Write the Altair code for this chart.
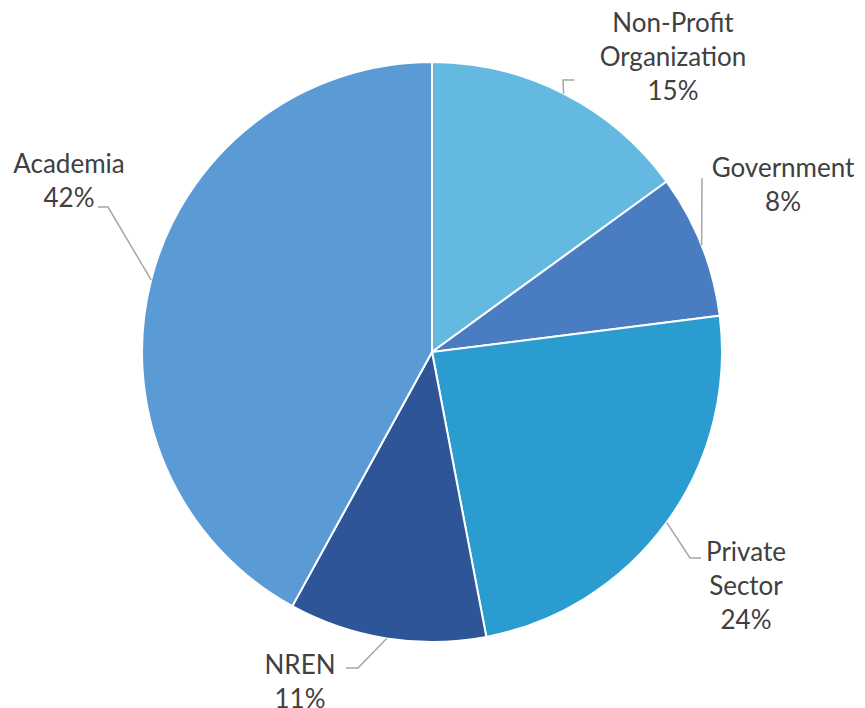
import math
import altair as alt
import pandas as pd

# ---- data ----
categories = ["Non-Profit Organization", "Government", "Private Sector", "NREN", "Academia"]
label_lines = [["Non-Profit", "Organization"], ["Government"], ["Private", "Sector"], ["NREN"], ["Academia"]]
values = [15, 8, 24, 11, 42]
colors = ["#63B9E0", "#4A7CC1", "#2A9CD0", "#2D5597", "#5B9BD5"]

# ---- layout (chart pixel coords) ----
CX, CY, R = 424, 344, 290
label_pos = [(665, 16), (775, 161), (738, 545), (292, 658), (61, 157)]
leader_elbow = [(555, 72), (694, 170), (682, 550), (350, 660), (100, 199)]
leader_end = [(566, 72), (694, 170), (693, 550), (338, 660), (90, 199)]
LINE_H = 34

pie_df = pd.DataFrame({"category": categories, "value": values, "idx": range(len(values))})

# leader lines start at slice mid-angle on the rim
total = sum(values)
rows = []
cum = 0
for i, v in enumerate(values):
    mid = (cum + v / 2) / total * 2 * math.pi
    cum += v
    sx = CX + R * math.sin(mid)
    sy = CY - R * math.cos(mid)
    pts = [(sx, sy), leader_elbow[i], leader_end[i]]
    for k, (px, py) in enumerate(pts):
        rows.append({"category": categories[i], "k": k, "x": px, "y": py})
line_df = pd.DataFrame(rows)

trows = []
for i, v in enumerate(values):
    lines = label_lines[i] + [f"{v}%"]
    for j, t in enumerate(lines):
        trows.append({"text": t, "x": label_pos[i][0], "y": label_pos[i][1] + j * LINE_H})
text_df = pd.DataFrame(trows)

pie = alt.Chart(pie_df).mark_arc(outerRadius=R, stroke="white", strokeWidth=2).encode(
    theta=alt.Theta("value:Q", stack=True),
    color=alt.Color("category:N", scale=alt.Scale(domain=categories, range=colors), legend=None),
    order=alt.Order("idx:Q"),
    x=alt.value(CX),
    y=alt.value(CY),
)

leaders = alt.Chart(line_df).mark_line(color="#A6A6A6", strokeWidth=1.5).encode(
    x=alt.X("x:Q", scale=None, axis=None),
    y=alt.Y("y:Q", scale=None, axis=None),
    detail="category:N",
    order="k:Q",
)

labels = alt.Chart(text_df).mark_text(
    font="Lato", fontSize=26, color="#404040", align="center", baseline="middle"
).encode(
    x=alt.X("x:Q", scale=None, axis=None),
    y=alt.Y("y:Q", scale=None, axis=None),
    text="text:N",
)

chart = alt.layer(pie, leaders, labels).properties(
    width=849, height=700, autosize=alt.AutoSizeParams(type="none"), padding=0
).configure_view(stroke=None)

chart.save("out.html", embed_options={"renderer": "svg", "actions": False})
